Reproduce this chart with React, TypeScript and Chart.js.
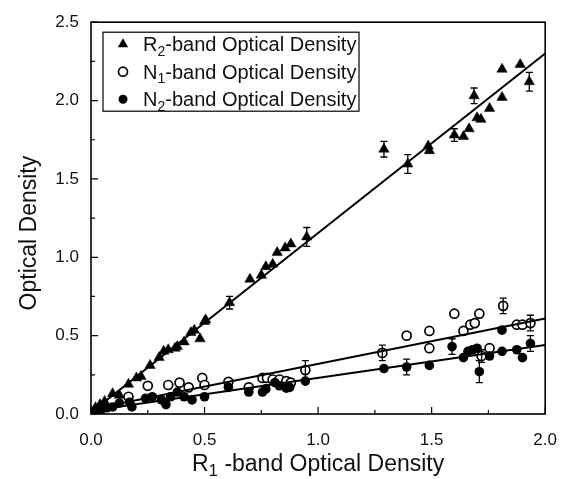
import React, { useEffect, useRef } from 'react';
import { Chart, registerables } from 'chart.js';

Chart.register(...registerables);

const FONT = '"Liberation Sans", Arial, Helvetica, sans-serif';

// Tick labels
const xTickLabels = ['0.0', '0.5', '1.0', '1.5', '2.0'];
const yTickLabels = ['0.0', '0.5', '1.0', '1.5', '2.0', '2.5'];

// Titles / legend text (main, subscript, rest)
const xTitleParts = ['R', '1', ' -band Optical Density'];
const yTitle = 'Optical Density';
const legendLabels = [
  ['R', '2', '-band Optical Density'],
  ['N', '1', '-band Optical Density'],
  ['N', '2', '-band Optical Density'],
];

// R2-band (filled triangles)
const r2X = [0, 0.02, 0.04, 0.06, 0.095, 0.125, 0.165, 0.2, 0.22, 0.26, 0.3, 0.32, 0.34, 0.37, 0.38, 0.41, 0.44, 0.455, 0.48, 0.5, 0.505, 0.61, 0.7, 0.75, 0.77, 0.8, 0.82, 0.855, 0.88, 0.95, 1.29, 1.395, 1.485, 1.49, 1.6, 1.64, 1.665, 1.687, 1.7, 1.717, 1.755, 1.81, 1.81, 1.89, 1.93];
const r2Y = [0, 0.04, 0.06, 0.08, 0.13, 0.12, 0.19, 0.23, 0.24, 0.31, 0.36, 0.4, 0.41, 0.42, 0.43, 0.46, 0.52, 0.535, 0.48, 0.59, 0.6, 0.71, 0.86, 0.885, 0.94, 0.955, 1.03, 1.06, 1.085, 1.13, 1.69, 1.595, 1.71, 1.68, 1.78, 1.77, 1.82, 2.03, 1.89, 1.88, 1.95, 2.02, 2.2, 2.23, 2.12];
const r2Err = [0, 0, 0, 0, 0, 0, 0, 0, 0, 0, 0, 0, 0, 0, 0, 0, 0, 0, 0, 0, 0, 0.04, 0, 0, 0, 0, 0, 0, 0, 0.06, 0.05, 0.06, 0, 0, 0.04, 0, 0, 0.05, 0, 0, 0, 0, 0, 0, 0.06];

// N1-band (open circles)
const n1X = [0.165, 0.25, 0.34, 0.39, 0.43, 0.49, 0.5, 0.605, 0.695, 0.755, 0.775, 0.8, 0.83, 0.86, 0.88, 0.944, 1.283, 1.39, 1.49, 1.49, 1.6, 1.64, 1.67, 1.69, 1.71, 1.72, 1.755, 1.815, 1.875, 1.9, 1.935];
const n1Y = [0.11, 0.18, 0.185, 0.2, 0.17, 0.23, 0.185, 0.205, 0.17, 0.23, 0.23, 0.22, 0.22, 0.21, 0.2, 0.28, 0.39, 0.5, 0.53, 0.42, 0.64, 0.53, 0.57, 0.58, 0.64, 0.37, 0.42, 0.69, 0.57, 0.57, 0.58];
const n1Err = [0, 0, 0, 0, 0, 0, 0, 0, 0, 0, 0, 0, 0, 0, 0, 0.06, 0.05, 0, 0, 0, 0, 0, 0, 0, 0, 0.04, 0, 0.05, 0, 0, 0.05];

// N2-band (filled circles)
const n2X = [0, 0.02, 0.04, 0.07, 0.095, 0.125, 0.17, 0.18, 0.24, 0.27, 0.31, 0.33, 0.35, 0.38, 0.41, 0.445, 0.5, 0.605, 0.695, 0.755, 0.77, 0.81, 0.83, 0.86, 0.875, 0.944, 1.29, 1.39, 1.49, 1.59, 1.64, 1.66, 1.68, 1.7, 1.71, 1.755, 1.81, 1.81, 1.875, 1.9, 1.935];
const n2Y = [0, 0.025, 0.01, 0.04, 0.045, 0.07, 0.075, 0.045, 0.1, 0.11, 0.09, 0.06, 0.11, 0.14, 0.11, 0.09, 0.11, 0.17, 0.14, 0.14, 0.16, 0.2, 0.18, 0.165, 0.17, 0.21, 0.29, 0.3, 0.31, 0.43, 0.36, 0.4, 0.41, 0.42, 0.27, 0.37, 0.535, 0.4, 0.41, 0.36, 0.45];
const n2Err = [0, 0, 0, 0, 0, 0, 0, 0, 0, 0, 0, 0, 0, 0, 0, 0, 0, 0, 0, 0, 0, 0, 0, 0, 0, 0, 0, 0.05, 0, 0.05, 0, 0, 0, 0, 0.07, 0, 0, 0, 0, 0, 0.05];

// Regression lines (endpoints at x = 0 and x = 2)
const fitX = [0, 2];
const r2Fit = [0.01, 2.3];
const n1Fit = [0.03, 0.61];
const n2Fit = [0.02, 0.44];

const pts = (xs: number[], ys: number[]) => xs.map((x, i) => ({ x, y: ys[i] }));

function tickLabel(v: number, labels: string[]) {
  const i = Math.round(v * 2);
  if (Math.abs(v * 2 - i) < 1e-6 && labels[i] !== undefined) return labels[i];
  return '';
}

function drawRich(ctx: CanvasRenderingContext2D, parts: string[], x: number, y: number, size: number, align: 'left' | 'center') {
  const subSize = Math.round(size * 0.72);
  const main = `${size}px ${FONT}`;
  const sub = `${subSize}px ${FONT}`;
  ctx.font = main;
  const w0 = ctx.measureText(parts[0]).width;
  const w2 = ctx.measureText(parts[2]).width;
  ctx.font = sub;
  const w1 = ctx.measureText(parts[1]).width;
  const total = w0 + w1 + w2;
  let cx = align === 'center' ? x - total / 2 : x;
  ctx.textAlign = 'left';
  ctx.textBaseline = 'alphabetic';
  ctx.font = main;
  ctx.fillText(parts[0], cx, y);
  ctx.font = sub;
  ctx.fillText(parts[1], cx + w0, y + size * 0.22);
  ctx.font = main;
  ctx.fillText(parts[2], cx + w0 + w1, y);
}

function drawMarker(ctx: CanvasRenderingContext2D, kind: string, x: number, y: number, r: number) {
  ctx.beginPath();
  if (kind === 'triangle') {
    ctx.moveTo(x, y - r);
    ctx.lineTo(x + Math.sin((2 * Math.PI) / 3) * r, y + r / 2);
    ctx.lineTo(x - Math.sin((2 * Math.PI) / 3) * r, y + r / 2);
    ctx.closePath();
    ctx.fillStyle = '#000';
    ctx.fill();
  } else if (kind === 'open') {
    ctx.arc(x, y, r, 0, Math.PI * 2);
    ctx.fillStyle = '#fff';
    ctx.fill();
    ctx.lineWidth = 1.7;
    ctx.strokeStyle = '#000';
    ctx.stroke();
  } else {
    ctx.arc(x, y, r, 0, Math.PI * 2);
    ctx.fillStyle = '#000';
    ctx.fill();
  }
}

const customPlugin = {
  id: 'customDecor',
  afterDatasetsDraw(chart: any) {
    const ctx: CanvasRenderingContext2D = chart.ctx;
    const xs = chart.scales.x;
    const ys = chart.scales.y;
    ctx.save();
    ctx.strokeStyle = '#000';
    ctx.lineWidth = 1.3;
    chart.data.datasets.forEach((ds: any) => {
      if (!ds.errors) return;
      ds.data.forEach((p: any, i: number) => {
        const e = ds.errors[i];
        if (!e) return;
        const px = xs.getPixelForValue(p.x);
        const t = ys.getPixelForValue(p.y + e);
        const b = ys.getPixelForValue(p.y - e);
        ctx.beginPath();
        ctx.moveTo(px, t);
        ctx.lineTo(px, b);
        ctx.moveTo(px - 3.5, t);
        ctx.lineTo(px + 3.5, t);
        ctx.moveTo(px - 3.5, b);
        ctx.lineTo(px + 3.5, b);
        ctx.stroke();
      });
    });
    ctx.restore();
  },
  afterDraw(chart: any) {
    const ctx: CanvasRenderingContext2D = chart.ctx;
    const a = chart.chartArea;
    const xs = chart.scales.x;
    const ys = chart.scales.y;
    ctx.save();
    ctx.strokeStyle = '#000';
    ctx.fillStyle = '#111';
    // frame
    ctx.lineWidth = 1.6;
    ctx.strokeRect(a.left, a.top, a.right - a.left, a.bottom - a.top);
    // inward ticks
    ctx.lineWidth = 1.2;
    ctx.beginPath();
    xs.ticks.forEach((t: any) => {
      const px = xs.getPixelForValue(t.value);
      const major = Math.abs(t.value * 2 - Math.round(t.value * 2)) < 1e-6;
      ctx.moveTo(px, a.bottom);
      ctx.lineTo(px, a.bottom - (major ? 7 : 4));
    });
    ys.ticks.forEach((t: any) => {
      const py = ys.getPixelForValue(t.value);
      const major = Math.abs(t.value * 2 - Math.round(t.value * 2)) < 1e-6;
      ctx.moveTo(a.left, py);
      ctx.lineTo(a.left + (major ? 7 : 4), py);
    });
    ctx.stroke();

    // legend
    const bx = a.left + 12;
    const by = a.top + 10;
    ctx.lineWidth = 1.2;
    ctx.fillStyle = '#fff';
    ctx.fillRect(bx, by, 256, 79);
    ctx.strokeRect(bx, by, 256, 79);
    const kinds = ['triangle', 'open', 'filled'];
    legendLabels.forEach((parts, i) => {
      const cy = by + 12 + i * 27.5;
      drawMarker(ctx, kinds[i], bx + 20, cy, kinds[i] === 'triangle' ? 6 : 4.5);
      ctx.fillStyle = '#111';
      drawRich(ctx, parts, bx + 40, cy + 7, 20, 'left');
    });

    // x title
    ctx.fillStyle = '#111';
    drawRich(ctx, xTitleParts, (a.left + a.right) / 2, chart.height - 8, 23, 'center');

    // y title
    ctx.save();
    ctx.translate(30, (a.top + a.bottom) / 2 + 15);
    ctx.rotate(-Math.PI / 2);
    ctx.font = `23px ${FONT}`;
    ctx.textAlign = 'center';
    ctx.textBaseline = 'middle';
    ctx.fillText(yTitle, 0, 0);
    ctx.restore();

    ctx.restore();
  },
};

export default function App() {
  const ref = useRef<HTMLCanvasElement>(null);
  useEffect(() => {
    if (!ref.current) return;
    const chart = new Chart(ref.current, {
      type: 'scatter',
      data: {
        datasets: [
          { type: 'line', data: pts(fitX, r2Fit), borderColor: '#000', borderWidth: 2, pointRadius: 0, fill: false } as any,
          { type: 'line', data: pts(fitX, n1Fit), borderColor: '#000', borderWidth: 2, pointRadius: 0, fill: false } as any,
          { type: 'line', data: pts(fitX, n2Fit), borderColor: '#000', borderWidth: 2, pointRadius: 0, fill: false } as any,
          { data: pts(n2X, n2Y), errors: n2Err, pointStyle: 'circle', pointRadius: 4.8, backgroundColor: '#000', borderColor: '#000', borderWidth: 0 } as any,
          { data: pts(n1X, n1Y), errors: n1Err, pointStyle: 'circle', pointRadius: 4.5, backgroundColor: '#fff', borderColor: '#000', borderWidth: 1.7 } as any,
          { data: pts(r2X, r2Y), errors: r2Err, pointStyle: 'triangle', pointRadius: 6, backgroundColor: '#000', borderColor: '#000', borderWidth: 0.5 } as any,
        ],
      },
      options: {
        animation: false,
        responsive: false,
        maintainAspectRatio: false,
        layout: { padding: { top: 21, right: 17, left: 0, bottom: 0 } },
        plugins: { legend: { display: false }, tooltip: { enabled: false }, title: { display: false } },
        scales: {
          x: {
            type: 'linear',
            min: 0,
            max: 2,
            afterFit(s: any) { s.height = 65; },
            grid: { display: false, drawTicks: false },
            border: { display: false },
            ticks: {
              stepSize: 0.25,
              autoSkip: false,
              maxRotation: 0,
              padding: 16,
              color: '#111',
              font: { family: FONT, size: 17 },
              callback: (v: any) => tickLabel(Number(v), xTickLabels),
            },
          },
          y: {
            type: 'linear',
            min: 0,
            max: 2.5,
            afterFit(s: any) { s.width = 91; },
            grid: { display: false, drawTicks: false },
            border: { display: false },
            ticks: {
              stepSize: 0.25,
              autoSkip: false,
              padding: 12,
              color: '#111',
              font: { family: FONT, size: 17 },
              callback: (v: any) => tickLabel(Number(v), yTickLabels),
            },
          },
        },
      } as any,
      plugins: [customPlugin],
    });
    return () => chart.destroy();
  }, []);
  return (
    <div style={{ position: 'absolute', left: 0, top: 0, width: 573, height: 479, background: '#fff' }}>
      <canvas ref={ref} width={573} height={479} style={{ width: 573, height: 479, display: 'block' }} />
    </div>
  );
}
